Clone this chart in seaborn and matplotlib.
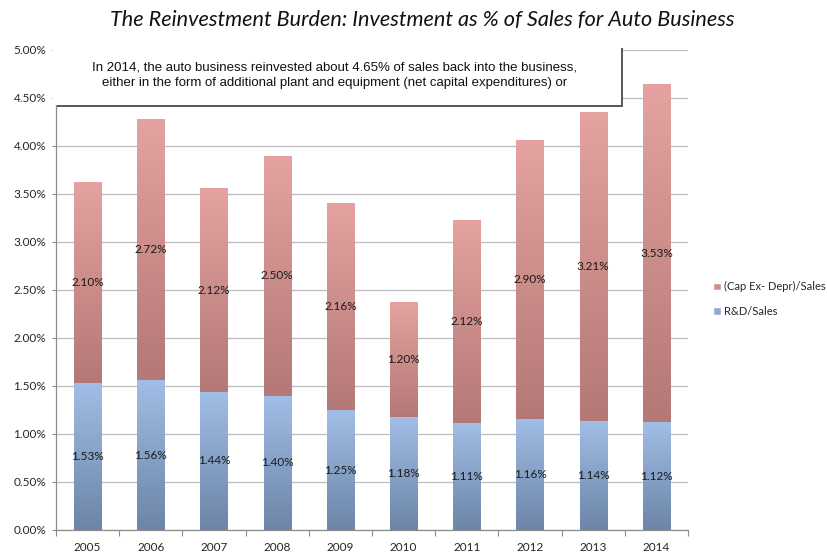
import numpy as np
import pandas as pd
import matplotlib
matplotlib.use('Agg')
import matplotlib.pyplot as plt
import seaborn as sns
from matplotlib.colors import LinearSegmentedColormap
from matplotlib.patches import Patch, Rectangle
from matplotlib.ticker import FixedLocator, FuncFormatter

# data (% of sales)
years = ['2005', '2006', '2007', '2008', '2009', '2010', '2011', '2012', '2013', '2014']
rd_sales = [1.53, 1.56, 1.44, 1.40, 1.25, 1.18, 1.11, 1.16, 1.14, 1.12]
capex_sales = [2.10, 2.72, 2.12, 2.50, 2.16, 1.20, 2.12, 2.90, 3.21, 3.53]
series_names = ['(Cap Ex- Depr)/Sales', 'R&D/Sales']
title = 'The Reinvestment Burden: Investment as % of Sales for Auto Business'
note = ('In 2014, the auto business reinvested about 4.65% of sales back into the business,\n'
        'either in the form of additional plant and equipment (net capital expenditures) or')

df = pd.DataFrame({'year': years, 'rd': rd_sales, 'capex': capex_sales})
df['total'] = df['rd'] + df['capex']

sns.set_style('white')
plt.rcParams['font.family'] = ['Lato', 'DejaVu Sans']

W, H = 827, 554
fig = plt.figure(figsize=(W / 100, H / 100), dpi=100)
ax = fig.add_axes([56 / W, 24 / H, (688 - 56) / W, 480 / H])

# stacked bars: totals first (red), R&D on top of them (blue)
sns.barplot(data=df, x='year', y='total', color='#d08e8b', width=0.43,
            errorbar=None, saturation=1, ax=ax)
n_red = len(ax.patches)
sns.barplot(data=df, x='year', y='rd', color='#8ea9d2', width=0.43,
            errorbar=None, saturation=1, ax=ax)

# gradient fills like the Excel original
red_cmap = LinearSegmentedColormap.from_list('red', ['#b47876', '#e4a3a0'])
blue_cmap = LinearSegmentedColormap.from_list('blue', ['#6c85a8', '#a1bee6'])
grad = np.linspace(0, 1, 256).reshape(-1, 1)
for i, p in enumerate(ax.patches):
    x0, w = p.get_x(), p.get_width()
    if i < n_red:
        y0, y1, cmap = df['rd'].iloc[i], p.get_y() + p.get_height(), red_cmap
    else:
        y0, y1, cmap = p.get_y(), p.get_y() + p.get_height(), blue_cmap
    im = ax.imshow(grad, cmap=cmap, aspect='auto', origin='lower',
                   extent=[x0, x0 + w, y0, y1], zorder=2)
    im.set_clip_path(p)
    p.set_facecolor('none')
    p.set_edgecolor('none')

# value labels
for i, row in df.iterrows():
    ax.text(i, row['rd'] / 2, f"{row['rd']:.2f}%", ha='center', va='center',
            fontsize=8.5, color='#1a1a1a', zorder=4)
    ax.text(i, row['rd'] + row['capex'] / 2, f"{row['capex']:.2f}%", ha='center',
            va='center', fontsize=8.5, color='#1a1a1a', zorder=4)

ax.set_xlim(-0.5, len(years) - 0.5)
ax.set_ylim(0, 5)
ax.yaxis.set_major_locator(FixedLocator(np.arange(0, 5.01, 0.5)))
ax.yaxis.set_major_formatter(FuncFormatter(lambda v, _: f'{v:.2f}%'))
ax.yaxis.grid(True, color='#bdbdbd', lw=0.9, zorder=0)
ax.set_axisbelow(True)
ax.set_xlabel('')
ax.set_ylabel('')
for s in ['top', 'right']:
    ax.spines[s].set_visible(False)
for s in ['left', 'bottom']:
    ax.spines[s].set_color('#8c8c8c')
    ax.spines[s].set_linewidth(0.9)

ax.tick_params(axis='y', which='major', left=True, length=3, width=0.8,
               color='#8c8c8c', labelsize=8.5, pad=4)
ax.tick_params(axis='x', which='major', bottom=False, labelsize=8.5, pad=5)
ax.set_xticks(np.arange(-0.5, len(years), 1.0), minor=True)
ax.tick_params(axis='x', which='minor', bottom=True, length=4, width=0.8,
               color='#8c8c8c')

# title
fig.text(0.51, 1 - 20 / H, title, ha='center', va='center', fontsize=15.6,
         style='italic', color='#111111')

# annotation box with shadow
fig.patches.append(Rectangle((57 / W, 1 - 107 / H), (623 - 57) / W, (107 - 48) / H,
                             transform=fig.transFigure, facecolor='#5a5a5a',
                             edgecolor='none', zorder=5))
fig.patches.append(Rectangle((53 / W, 1 - 105 / H), (621 - 53) / W, (105 - 43) / H,
                             transform=fig.transFigure, facecolor='white',
                             edgecolor='none', zorder=6))
fig.text(335 / W, 1 - 75 / H, note, ha='center', va='center', fontsize=9.5,
         family=['Liberation Sans', 'DejaVu Sans'], linespacing=1.4,
         color='#111111', zorder=7)

# legend
handles = [Patch(facecolor='#d08e8b'), Patch(facecolor='#8ea9d2')]
fig.legend(handles, series_names, loc='center left',
           bbox_to_anchor=(703 / W, 1 - 299 / H), frameon=False, fontsize=8,
           handlelength=0.7, handleheight=0.7, labelspacing=1.2,
           handletextpad=0.3)

fig.savefig('out.png', dpi=100)
